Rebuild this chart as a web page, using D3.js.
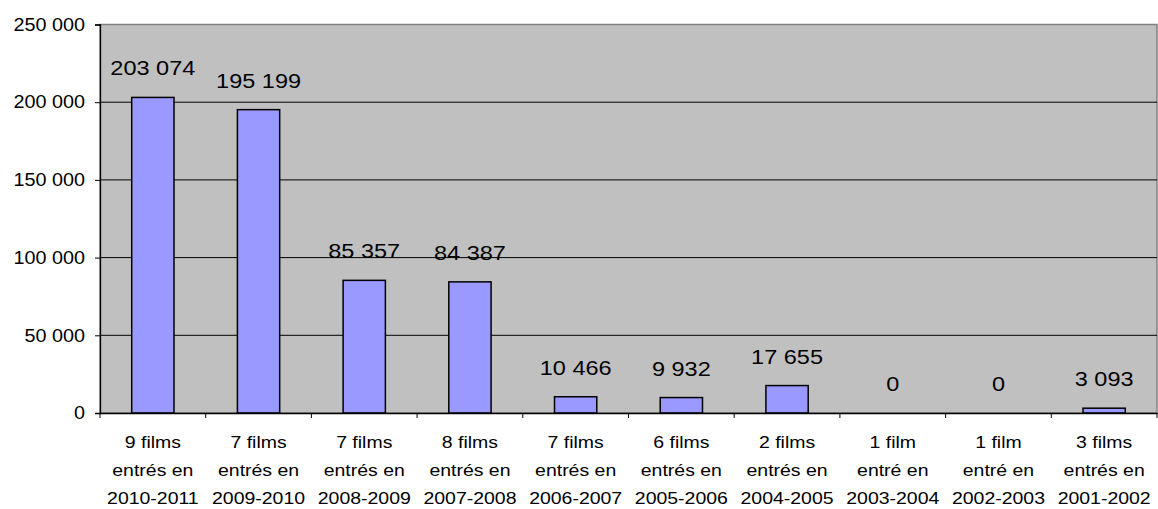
<!DOCTYPE html>
<html>
<head>
<meta charset="utf-8">
<script src="https://cdn.jsdelivr.net/npm/d3@7"></script>
<style>
  body { margin: 0; background: #fff; }
  text { font-family: "Liberation Sans", Arial, sans-serif; fill: #000; }
</style>
</head>
<body>
<div id="chart"></div>
<script>
// number of films per season and the season
const filmCounts = ["9 films", "7 films", "7 films", "8 films", "7 films", "6 films", "2 films", "1 film", "1 film", "3 films"];
const entryLines = ["entrés en", "entrés en", "entrés en", "entrés en", "entrés en", "entrés en", "entrés en", "entré en", "entré en", "entrés en"];
const seasons = ["2010-2011", "2009-2010", "2008-2009", "2007-2008", "2006-2007", "2005-2006", "2004-2005", "2003-2004", "2002-2003", "2001-2002"];
const values = [203074, 195199, 85357, 84387, 10466, 9932, 17655, 0, 0, 3093];
const yTicks = [0, 50000, 100000, 150000, 200000, 250000];

const width = 1158, height = 509;
const plot = { left: 100, right: 1157, top: 24.5, bottom: 413 };

const fr = d3.formatLocale({ decimal: ",", thousands: "\u00a0", grouping: [3], currency: ["", " €"] });
const fmt = fr.format(",d");

const svg = d3.select("#chart").append("svg")
    .attr("width", width)
    .attr("height", height);

const x = d3.scaleBand()
    .domain(seasons)
    .range([plot.left, plot.right])
    .padding(0);

const y = d3.scaleLinear()
    .domain([0, 250000])
    .range([plot.bottom, plot.top]);

// plot background
svg.append("rect")
    .attr("x", plot.left)
    .attr("y", plot.top)
    .attr("width", plot.right - plot.left)
    .attr("height", plot.bottom - plot.top)
    .attr("fill", "#c0c0c0")
    .attr("stroke", "#808080")
    .attr("stroke-width", 1.5);

// gridlines
svg.selectAll("line.grid")
    .data(yTicks.filter(d => d > 0 && d < 250000))
    .enter()
    .append("line")
    .attr("class", "grid")
    .attr("x1", plot.left)
    .attr("x2", plot.right)
    .attr("y1", d => y(d))
    .attr("y2", d => y(d))
    .attr("stroke", "#000")
    .attr("stroke-width", 1);

// y axis
const yAxis = d3.axisLeft(y)
    .tickValues(yTicks)
    .tickSize(5)
    .tickFormat(d => fmt(d));

const yg = svg.append("g")
    .attr("transform", `translate(${plot.left},0)`)
    .call(yAxis);
yg.select(".domain").attr("stroke", "#000").attr("stroke-width", 1.3);
yg.selectAll(".tick line").attr("stroke", "#000");
yg.selectAll(".tick text")
    .attr("font-size", 18)
    .attr("font-family", "Liberation Sans, Arial, sans-serif")
    .attr("x", 0)
    .attr("transform", "translate(-15,0) scale(1.1,1)");

// bars
const bw = x.bandwidth() * 0.4;
svg.selectAll("rect.bar")
    .data(values)
    .enter()
    .append("rect")
    .attr("class", "bar")
    .attr("x", (d, i) => x(seasons[i]) + (x.bandwidth() - bw) / 2)
    .attr("y", d => y(d))
    .attr("width", bw)
    .attr("height", d => plot.bottom - y(d))
    .attr("fill", "#9999ff")
    .attr("stroke", "#000")
    .attr("stroke-width", 1.5);

// x axis
const xAxis = d3.axisBottom(x).tickSize(0).tickFormat("");
const xg = svg.append("g")
    .attr("transform", `translate(0,${plot.bottom})`)
    .call(xAxis);
xg.select(".domain").attr("stroke", "#000").attr("stroke-width", 1.3);

// band boundary ticks
svg.selectAll("line.xtick")
    .data(seasons.concat(["end"]))
    .enter()
    .append("line")
    .attr("class", "xtick")
    .attr("x1", (d, i) => plot.left + i * x.step())
    .attr("x2", (d, i) => plot.left + i * x.step())
    .attr("y1", plot.bottom)
    .attr("y2", plot.bottom + 5)
    .attr("stroke", "#000");

// category labels, three lines
const catLines = [filmCounts, entryLines, seasons];
const lineY = [448, 476, 504];
catLines.forEach((arr, li) => {
    svg.selectAll(null)
        .data(arr)
        .enter()
        .append("text")
        .attr("transform", (d, i) => `translate(${x(seasons[i]) + x.bandwidth() / 2},${lineY[li]}) scale(1.18,1)`)
        .attr("text-anchor", "middle")
        .attr("font-size", 16.5)
        .text(d => d);
});

// value labels
svg.selectAll("text.val")
    .data(values)
    .enter()
    .append("text")
    .attr("class", "val")
    .attr("transform", (d, i) => `translate(${x(seasons[i]) + x.bandwidth() / 2},${y(d) - 22}) scale(1.12,1)`)
    .attr("text-anchor", "middle")
    .attr("font-size", 21)
    .text(d => fmt(d));
</script>
</body>
</html>
